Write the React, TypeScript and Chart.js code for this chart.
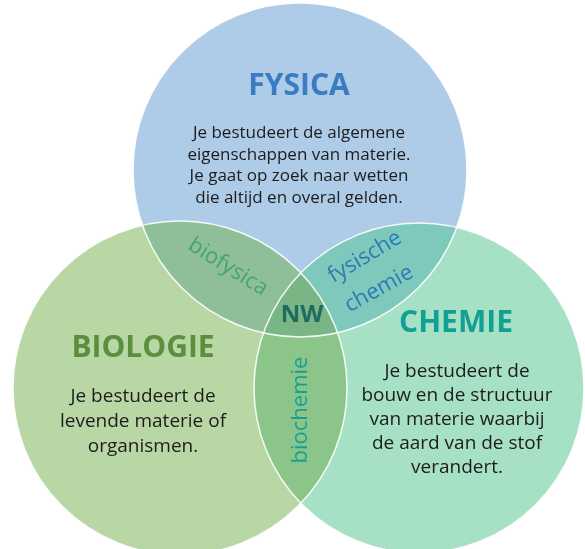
import { useEffect, useRef } from 'react';
import { Chart, registerables } from 'chart.js';

Chart.register(...registerables);

// ---- data ----
const setNames = ['FYSICA', 'BIOLOGIE', 'CHEMIE'];
const centerX = [300, 180, 419];
const centerY = [170, 388, 388];
const radius = [167, 167, 165];
const descFysica = [
  'Je bestudeert de algemene',
  'eigenschappen van materie.',
  'Je gaat op zoek naar wetten',
  'die altijd en overal gelden.',
];
const descBiologie = ['Je bestudeert de', 'levende materie of', 'organismen.'];
const descChemie = [
  'Je bestudeert de',
  'bouw en de structuur',
  'van materie waarbij',
  'de aard van de stof',
  'verandert.',
];
const overlapNames = ['biofysica', 'fysische chemie', 'biochemie', 'NW'];

// ---- styles ----
const FONT = '"Open Sans", "DejaVu Sans", sans-serif';
const circleColors = ['#aecbe8', '#b9d7a5', '#a7e1c5'];
const pairColors: Record<string, string> = { '01': '#8fbf99', '02': '#7fc9bc', '12': '#8bc58a' };
const tripleColor = '#79b585';
const titleColors = ['#3a7cc1', '#5b8f3e', '#13a094'];

const vennPlugin = {
  id: 'venn',
  beforeDatasetsDraw(chart: any) {
    const { ctx, scales } = chart;
    const xs = scales.x, ys = scales.y;
    const px = (i: number) => xs.getPixelForValue(centerX[i]);
    const py = (i: number) => ys.getPixelForValue(centerY[i]);
    const pr = (i: number) => Math.abs(xs.getPixelForValue(radius[i]) - xs.getPixelForValue(0));
    const path = (i: number) => {
      ctx.beginPath();
      ctx.arc(px(i), py(i), pr(i), 0, Math.PI * 2);
    };
    ctx.save();
    for (let i = 0; i < 3; i++) {
      path(i);
      ctx.fillStyle = circleColors[i];
      ctx.fill();
    }
    const pairs: [number, number][] = [[0, 1], [0, 2], [1, 2]];
    for (const [a, b] of pairs) {
      ctx.save();
      path(a);
      ctx.clip();
      path(b);
      ctx.fillStyle = pairColors[`${a}${b}`];
      ctx.fill();
      ctx.restore();
    }
    ctx.save();
    path(0); ctx.clip();
    path(1); ctx.clip();
    path(2);
    ctx.fillStyle = tripleColor;
    ctx.fill();
    ctx.restore();
    ctx.strokeStyle = 'rgba(255,255,255,0.9)';
    ctx.lineWidth = 1.5;
    for (let i = 0; i < 3; i++) {
      path(i);
      ctx.stroke();
    }
    ctx.restore();
  },
  afterDatasetsDraw(chart: any) {
    const { ctx, scales } = chart;
    const xs = scales.x, ys = scales.y;
    const P = (x: number, y: number) => [xs.getPixelForValue(x), ys.getPixelForValue(y)];
    const text = (t: string, x: number, y: number, font: string, color: string, angle = 0) => {
      const [X, Y] = P(x, y);
      ctx.save();
      ctx.translate(X, Y);
      ctx.rotate((angle * Math.PI) / 180);
      ctx.font = font;
      ctx.fillStyle = color;
      ctx.textAlign = 'center';
      ctx.textBaseline = 'middle';
      ctx.fillText(t, 0, 0);
      ctx.restore();
    };
    const titleFont = `bold 30px ${FONT}`;
    const dark = '#1c1c1c';
    text(setNames[0], 299, 86, titleFont, titleColors[0]);
    descFysica.forEach((l, i) => text(l, 299, 133 + i * 21.7, `17px ${FONT}`, dark));
    text(setNames[1], 143, 348, titleFont, titleColors[1]);
    descBiologie.forEach((l, i) => text(l, 143, 397 + i * 25, `19px ${FONT}`, dark));
    text(setNames[2], 456, 323, titleFont, titleColors[2]);
    descChemie.forEach((l, i) => text(l, 457, 372 + i * 24, `19px ${FONT}`, dark));

    const ovFont = `22px ${FONT}`;
    text(overlapNames[0], 228, 267, ovFont, '#43a56f', 32);
    const [fy, ch] = overlapNames[1].split(' ');
    text(fy, 365, 257, ovFont, '#2b7bb5', -31);
    text(ch, 379, 289, ovFont, '#2b7bb5', -29);
    text(overlapNames[2], 301, 410, ovFont, '#17a095', -90);
    text(overlapNames[3], 302, 315, `bold 24px ${FONT}`, '#1e6b5f');
  },
};

export default function App() {
  const ref = useRef<HTMLCanvasElement>(null);
  useEffect(() => {
    document.body.style.margin = '0';
    if (!ref.current) return;
    const chart = new Chart(ref.current, {
      type: 'scatter',
      data: {
        datasets: [
          {
            data: centerX.map((x, i) => ({ x, y: centerY[i] })),
            pointRadius: 0,
            pointHoverRadius: 0,
          },
        ],
      },
      options: {
        responsive: false,
        animation: false,
        events: [],
        layout: { padding: 0 },
        plugins: { legend: { display: false }, tooltip: { enabled: false } },
        scales: {
          x: { type: 'linear', min: 0, max: 585, display: false },
          y: { type: 'linear', min: 0, max: 549, reverse: true, display: false },
        },
      },
      plugins: [vennPlugin],
    });
    return () => chart.destroy();
  }, []);
  return (
    <div style={{ position: 'absolute', left: 0, top: 0, width: 585, height: 549, background: '#fff' }}>
      <canvas ref={ref} width={585} height={549} />
    </div>
  );
}
